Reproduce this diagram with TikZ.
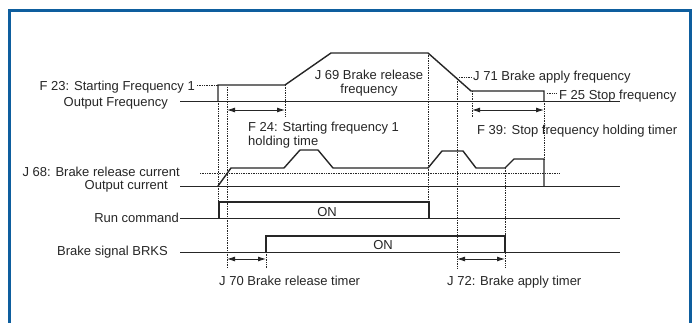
\documentclass[tikz,border=0pt]{standalone}
\usepackage{fontspec}
\setmainfont{Liberation Sans}
\usetikzlibrary{arrows.meta}
\usepackage{xcolor}
\definecolor{moldura}{RGB}{14,94,158}
\definecolor{traco}{RGB}{38,38,38}

\begin{document}
\begin{tikzpicture}[x=1pt, y=-1pt,
    rotulo/.style={font=\fontsize{13}{14.2}\selectfont, inner sep=0pt, text=traco},
    sinal/.style={traco, line width=1.4pt, line join=miter},
    linhabase/.style={traco, line width=0.9pt},
    guia/.style={traco, densely dotted, line width=0.7pt},
    cota/.style={{Latex[length=8pt,width=5pt]}-{Latex[length=8pt,width=5pt]}, traco, line width=0.9pt}]
    % Fundo e moldura
    \useasboundingbox (0,0) rectangle (699,323);
    \fill[white] (0,0) rectangle (699,323);
    \draw[moldura, line width=3pt] (9.5,323) -- (9.5,10.7) -- (690.3,10.7) -- (690.3,323);
    % Linhas de base dos sinais
    \foreach \y in {101, 186, 218, 252}
      \draw[linhabase] (180,\y) -- (620,\y);
    % Frequencia de saida
    \draw[sinal] (218,101) -- (218,85) -- (285,85) -- (331,53) -- (428,53) -- (471,91) -- (544,91) -- (544,101);
    % Corrente de saida
    \draw[sinal] (218,186) -- (231,168) -- (284,168) -- (300,150) -- (318,150) -- (333,168) -- (428,168)
      -- (442,151) -- (463,151) -- (476,168) -- (505,168) -- (514,159) -- (544,159) -- (544,186);
    % Comando de marcha e sinal de freio
    \draw[sinal] (219,218) -- (219,202) -- (429,202) -- (429,218);
    \draw[sinal] (266,252) -- (266,236) -- (505,236) -- (505,252);
    % Linhas guia pontilhadas
    \foreach \x/\ya/\yb in {218/101/200, 227/87/268, 285/85/117, 428/53/202, 457/79/268,
                            472/91/117, 544/101/159, 505/168/268, 266/252/268}
      \draw[guia] (\x,\ya) -- (\x,\yb);
    \draw[guia] (200,173) -- (560,173);
    % Rotulos dos sinais
    \node[rotulo, anchor=base east] (f23) at (195,90.5) {F 23: Starting Frequency 1};
    \node[rotulo, anchor=base east] (freq) at (168,106.5) {Output Frequency};
    \node[rotulo, anchor=base east] (j68) at (180,177) {J 68: Brake release current};
    \node[rotulo, anchor=base east] (corrente) at (168,190) {Output current};
    \node[rotulo, anchor=base east] (marcha) at (179,222.5) {Run command};
    \node[rotulo, anchor=base east] (brks) at (168,255.5) {Brake signal BRKS};
    \node[rotulo, anchor=base] (on1) at (327,216.7) {ON};
    \node[rotulo, anchor=base] (on2) at (383,250) {ON};
    % Parametros
    \node[rotulo, anchor=base, align=center] (j69) at (369,93.3) {J 69 Brake release\\frequency};
    \node[rotulo, anchor=base west, align=left] (f24) at (248,146) {F 24: Starting frequency 1\\holding time};
    \node[rotulo, anchor=base west] (j71) at (473,80.7) {J 71 Brake apply frequency};
    \node[rotulo, anchor=base west] (f25) at (559,100) {F 25 Stop frequency};
    \node[rotulo, anchor=base west] (f39) at (477,135) {F 39: Stop frequency holding timer};
    \node[rotulo, anchor=base west] (j70) at (219,286) {J 70 Brake release timer};
    \node[rotulo, anchor=base west] (j72) at (447,286) {J 72: Brake apply timer};
    % Chamadas pontilhadas
    \coordinate (p23) at (218,85);
    \coordinate (p71) at (459,77);
    \coordinate (p25) at (547,93);
    \draw[guia] ([xshift=2pt]f23.east |- p23) -- (p23);
    \draw[guia] (p71) -- ([xshift=-1pt]j71.west |- p71);
    \draw[guia] (p25) -- ([xshift=-2pt]f25.west |- p25);
    % Setas de tempo
    \coordinate (a24) at (227,110);  \coordinate (b24) at (285,110);
    \coordinate (a39) at (472,110);  \coordinate (b39) at (544,110);
    \coordinate (a70) at (227,259);  \coordinate (b70) at (266,259);
    \coordinate (a72) at (457,259);  \coordinate (b72) at (505,259);
    \draw[cota] (a24) -- (b24);
    \draw[cota] (a39) -- (b39);
    \draw[cota] (a70) -- (b70);
    \draw[cota] (a72) -- (b72);
  \end{tikzpicture}
\end{document}
